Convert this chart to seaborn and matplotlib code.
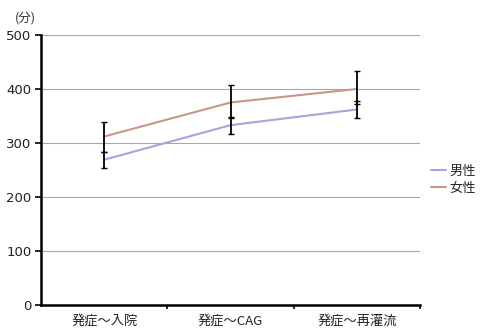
import matplotlib
matplotlib.use("Agg")
import matplotlib.pyplot as plt
import seaborn as sns
import pandas as pd
import numpy as np
from matplotlib.ticker import FixedLocator

# Time from onset (minutes), by sex
categories = ["発症～入院", "発症～CAG", "発症～再灌流"]
male = [269, 333, 362]
female = [312, 375, 400]
male_err_lo = [15, 17, 16]
male_err_hi = [15, 16, 16]
female_err_lo = [28, 28, 27]
female_err_hi = [27, 32, 34]
series_names = ["男性", "女性"]
colors = ["#a3a6dc", "#c9968a"]

sns.set_theme(style="white")
plt.rcParams["font.family"] = ["Noto Sans CJK JP", "DejaVu Sans"]

df = pd.DataFrame({
    "区間": categories * 2,
    "時間": male + female,
    "性別": [series_names[0]] * 3 + [series_names[1]] * 3,
})

fig = plt.figure(figsize=(4.83, 3.30), dpi=100)
fig.patch.set_facecolor("white")
ax = fig.add_axes([0.085, 0.076, 0.785, 0.818])

sns.lineplot(data=df, x="区間", y="時間", hue="性別", palette=colors,
             linewidth=1.5, ax=ax, legend=False, zorder=3)

x = np.arange(len(categories))
for vals, lo, hi in [(female, female_err_lo, female_err_hi),
                     (male, male_err_lo, male_err_hi)]:
    ax.errorbar(x, vals, yerr=[lo, hi], fmt="none", ecolor="black",
                elinewidth=1.3, capsize=2.5, capthick=1.0, zorder=4)

ax.set_xlim(-0.5, 2.5)
ax.set_ylim(0, 500)
ax.set_yticks(range(0, 501, 100))
ax.yaxis.grid(True, color="#a8a8a8", linewidth=0.8)
ax.xaxis.grid(False)
ax.set_xlabel("")
ax.set_ylabel("")

for s in ["top", "right"]:
    ax.spines[s].set_visible(False)
ax.spines["left"].set_color("black")
ax.spines["left"].set_linewidth(1.8)
ax.spines["bottom"].set_color("black")
ax.spines["bottom"].set_linewidth(1.8)

ax.tick_params(axis="y", which="major", left=True, length=4, width=1.2,
               color="black", labelsize=9.5, pad=3, labelcolor="#222222")
ax.tick_params(axis="x", which="major", bottom=False, labelsize=9.5,
               pad=1, labelcolor="#222222")
ax.xaxis.set_minor_locator(FixedLocator([0.5, 1.5, 2.5]))
ax.tick_params(axis="x", which="minor", bottom=True, length=3, width=1.2,
               color="black")
for lab in ax.get_yticklabels():
    lab.set_family(["Liberation Sans Narrow", "DejaVu Sans"])

fig.text(0.03, 0.945, "(分)", fontsize=9, color="#333333",
         ha="left", va="center")

handles = [plt.Line2D([], [], color=c, linewidth=1.5) for c in colors]
fig.legend(handles, series_names, loc="center left",
           bbox_to_anchor=(0.868, 0.455), frameon=False, fontsize=9.5,
           handlelength=1.1, handletextpad=0.3, labelspacing=0.3)

fig.savefig("out.png", dpi=100, facecolor="white")
